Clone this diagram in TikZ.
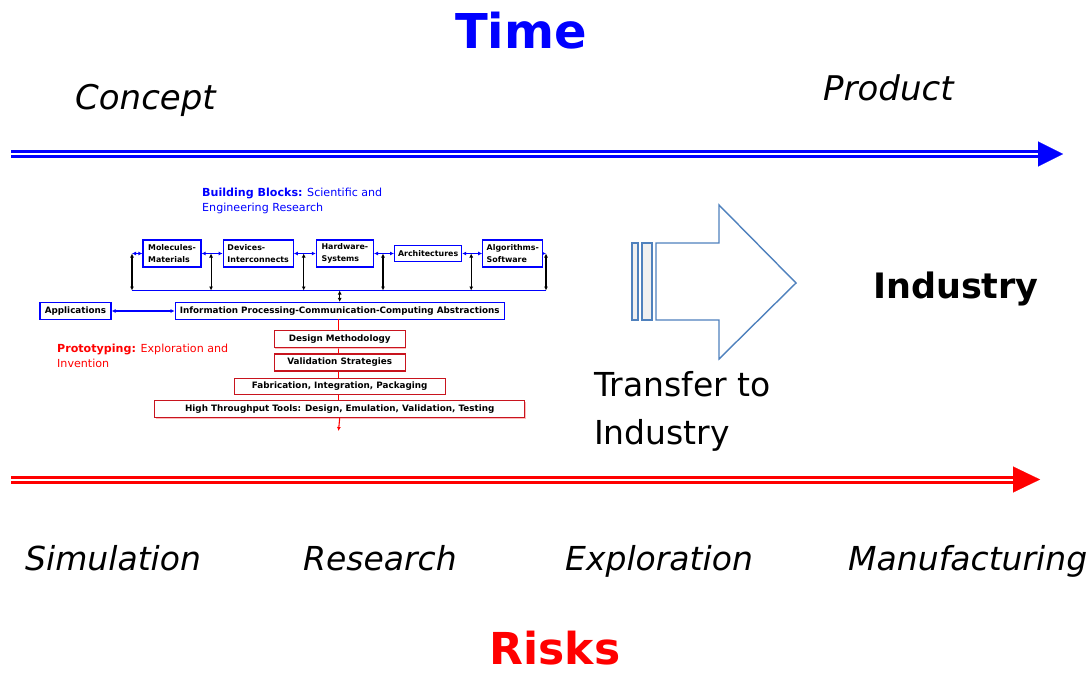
\documentclass[tikz,border=0pt]{standalone}
\usepackage{fontspec}
\setmainfont{DejaVu Sans}
\usetikzlibrary{arrows.meta,positioning,shadows}

\definecolor{arrowblue}{RGB}{79,129,189}
\definecolor{boxred}{RGB}{200,20,30}

\begin{document}
\begin{tikzpicture}[x=1pt, y=-1pt, >={Latex[length=4pt,width=4pt]},
    rowbox/.style={draw=blue, line width=1.2pt, fill=white, inner sep=2pt, align=left, font=\fontsize{7.9}{12}\selectfont\bfseries, minimum height=27pt},
    absbox/.style={draw=blue, line width=1.2pt, fill=white, inner sep=2pt, font=\fontsize{8.8}{10}\selectfont\bfseries, minimum height=17pt},
    redbox/.style={draw=boxred, line width=1.2pt, fill=white, inner sep=2pt, font=\fontsize{8.8}{10}\selectfont\bfseries, minimum height=17pt,
      drop shadow={fill=red!45, opacity=0.6, shadow xshift=1.2pt, shadow yshift=-1.2pt}},
    bluelink/.style={blue, line width=1.1pt},
    blacklink/.style={black, line width=1.1pt, <->},
    bigital/.style={font=\fontsize{34}{40}\selectfont\itshape, inner sep=0pt},
    bigbold/.style={font=\fontsize{35}{40}\selectfont\bfseries, inner sep=0pt},
    bigarrow/.style={draw=arrowblue, line width=1.4pt, line join=miter},
  ]
  \useasboundingbox (0,0) rectangle (1091,674);

  % headings
  \node[font=\fontsize{48}{56}\selectfont\bfseries, text=blue, inner sep=0pt, anchor=base] (time) at (521,49) {Time};
  \node[bigital, anchor=base west] (concept) at (75,110) {Concept};
  \node[bigital, anchor=base west] (product) at (823,101) {Product};

  % time axis
  \coordinate (ts) at (11,154);
  \coordinate (te) at (1038,154);
  \coordinate (ttip) at (1063,154);
  \draw[blue, line width=3pt, double=white, double distance=2pt] (ts) -- (te);
  \draw[blue, line width=0.1pt, -{Triangle[length=25pt,width=25pt]}] (te) -- (ttip);

  % building blocks
  \node[anchor=north west, inner sep=0pt, align=left, text=blue, font=\fontsize{11.1}{15}\selectfont] (bbtxt) at (202,188)
    {\textbf{Building Blocks:} Scientific and\\Engineering Research};

  \node[rowbox, minimum width=58pt] (mol) at (172,253.5) {Molecules-\\Materials};
  \node[rowbox, minimum width=70pt, right=21pt of mol] (dev) {Devices-\\Interconnects};
  \node[rowbox, minimum width=57pt, right=22pt of dev] (hw) {Hardware-\\Systems};
  \node[rowbox, minimum width=67pt, minimum height=16pt, right=20pt of hw] (arch) {Architectures};
  \node[rowbox, minimum width=60pt, right=20pt of arch] (alg) {Algorithms-\\Software};

  % bus under the row
  \coordinate (bl) at (132,290.5);
  \coordinate (br) at (546,290.5);
  \coordinate (ml) at (132,253.5);
  \coordinate (ar) at (546,253.5);
  \draw[bluelink] (bl) -- (br);
  \draw[bluelink, <->] (ml) -- (mol.west);
  \draw[bluelink, ->] (alg.east) -- (ar);
  \draw[blacklink] (ml) -- (bl);
  \draw[blacklink] (ar) -- (br);
  \foreach \a/\b [count=\i] in {mol/dev, dev/hw, hw/arch, arch/alg} {
    \draw[bluelink, <->] (\a.east) -- (\b.west) coordinate[pos=0.45] (j\i);
    \draw[blacklink] (j\i) -- (j\i |- bl);
  }

  % abstractions
  \node[absbox, minimum width=71pt] (app) at (75.5,311) {Applications};
  \node[absbox, minimum width=329pt, right=63pt of app] (info) {Information Processing-Communication-Computing Abstractions};
  \draw[bluelink, <->] (app) -- (info);
  \draw[blacklink] (info.north |- bl) -- (info.north);

  % prototyping
  \node[anchor=north west, inner sep=0pt, align=left, text=red, font=\fontsize{11.1}{15}\selectfont] (prtxt) at (57,344)
    {\textbf{Prototyping:} Exploration and\\Invention};

  \draw[red, line width=1.1pt] (338.5,319) -- (338.5,415);
  \node[redbox, minimum width=131pt, below=10pt of info] (dm) {Design Methodology};
  \node[redbox, minimum width=131pt, below=5pt of dm] (vs) {Validation Strategies};
  \node[redbox, minimum width=211pt, minimum height=16pt, below=6pt of vs] (fab) {Fabrication, Integration, Packaging};
  \node[redbox, minimum width=370pt, below=5pt of fab] (ht) {High Throughput Tools: Design, Emulation, Validation, Testing};
  \coordinate (rend) at (338.5,431);
  \draw[red, line width=1.1pt, ->] (ht.south) -- (rend);

  % transfer arrow
  \draw[bigarrow, fill=gray!12] (632,243) rectangle (638,320);
  \draw[bigarrow, fill=gray!12] (642,243) rectangle (652,320);
  \draw[bigarrow, fill=white] (656,243) -- (719,243) -- (719,205) -- (796,283) -- (719,359) -- (719,320) -- (656,320) -- cycle;
  \node[anchor=north west, inner sep=0pt, align=left, font=\fontsize{33}{48}\selectfont] (transfer) at (594,371) {Transfer to\\Industry};
  \node[bigbold, anchor=base west] (industry) at (873,298) {Industry};

  % risk axis
  \coordinate (rs) at (11,479.5);
  \coordinate (re) at (1013,479.5);
  \coordinate (rtip) at (1040,479.5);
  \draw[red, line width=3pt, double=white, double distance=2pt] (rs) -- (re);
  \draw[red, line width=0.1pt, -{Triangle[length=27pt,width=26pt]}] (re) -- (rtip);

  \node[bigital, font=\fontsize{33}{40}\selectfont\itshape, anchor=base west] (sim) at (25,570) {Simulation};
  \node[bigital, font=\fontsize{33}{40}\selectfont\itshape, anchor=base west] (res) at (303,570) {Research};
  \node[bigital, font=\fontsize{33}{40}\selectfont\itshape, anchor=base west] (expl) at (565,570) {Exploration};
  \node[bigital, font=\fontsize{33}{40}\selectfont\itshape, anchor=base west] (manu) at (848,570) {Manufacturing};

  \node[font=\fontsize{44}{50}\selectfont\bfseries, text=red, inner sep=0pt, anchor=base] (risks) at (555,664) {Risks};
\end{tikzpicture}
\end{document}
